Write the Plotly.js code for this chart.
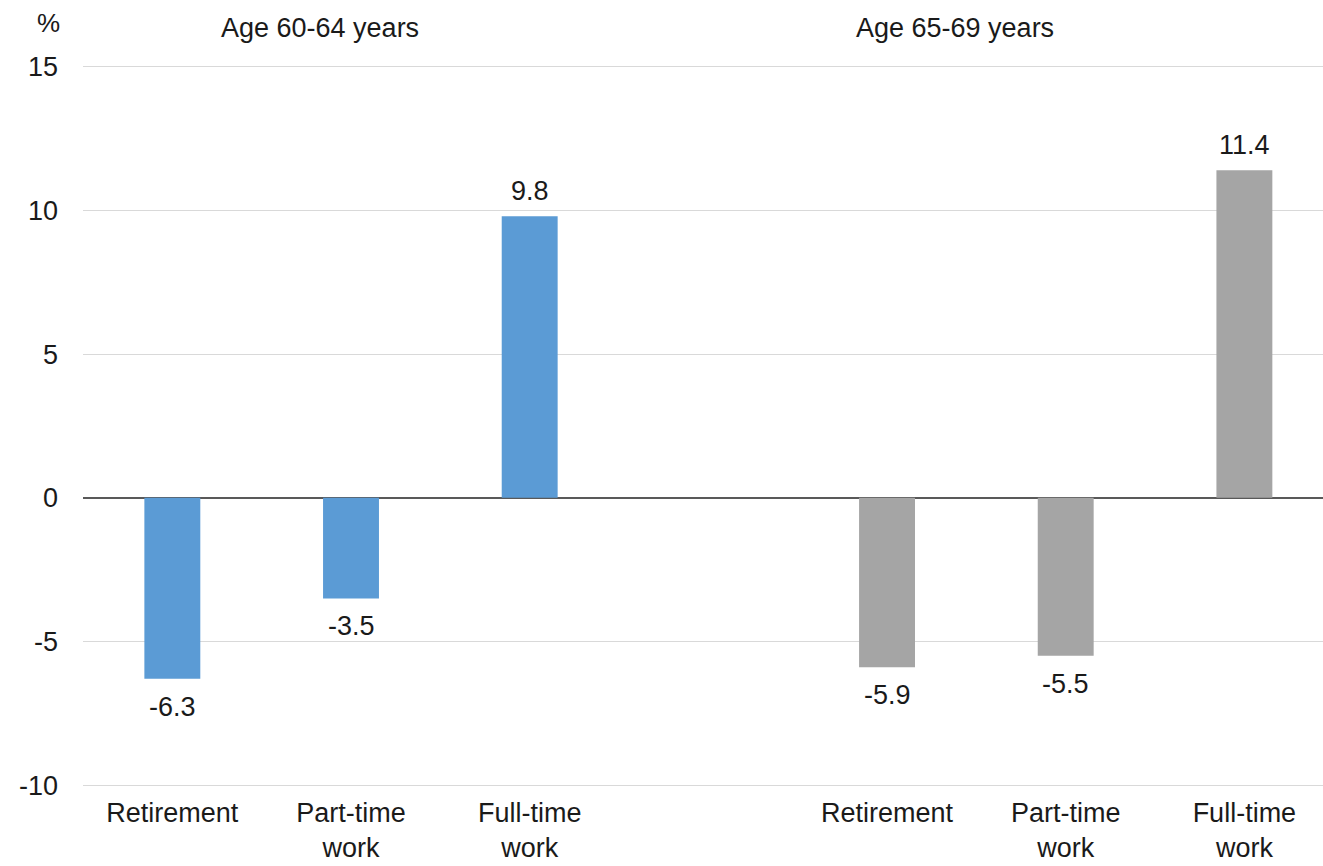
<!DOCTYPE html>
<html>
<head>
<meta charset="utf-8">
<script src="https://cdn.plot.ly/plotly-3.0.1.min.js"></script>
<style>
  html, body { margin: 0; padding: 0; background: #ffffff; }
  #chart { width: 1323px; height: 866px; }
</style>
</head>
<body>
<div id="chart"></div>
<script>
// ---- data ----
const categories = ['Retirement', 'Part-time<br>work', 'Full-time<br>work'];
const groupTitles = ['Age 60-64 years', 'Age 65-69 years'];
const values6064 = [-6.3, -3.5, 9.8];
const values6569 = [-5.9, -5.5, 11.4];
const yTickVals = [-10, -5, 0, 5, 10, 15];
const yUnit = '%';

// ---- layout helpers ----
const groupStride = categories.length + 1; // one empty slot between groups
const pos = (g, i) => g * groupStride + i;
const x6064 = categories.map((_, i) => pos(0, i));
const x6569 = categories.map((_, i) => pos(1, i));
const tickVals = x6064.concat(x6569);
const tickText = categories.concat(categories);

const FONT = '"Liberation Sans", Arial, sans-serif';
const TXT = '#1a1a1a';
const FS = 27;

function fmt(v) { return v.toFixed(1); }

const traces = [
  {
    type: 'bar', x: x6064, y: values6064, width: 0.313,
    marker: { color: '#5B9BD5', line: { width: 0 } },
    hoverinfo: 'skip', showlegend: false
  },
  {
    type: 'bar', x: x6569, y: values6569, width: 0.313,
    marker: { color: '#A5A5A5', line: { width: 0 } },
    hoverinfo: 'skip', showlegend: false
  }
];

const annotations = [];
[[x6064, values6064], [x6569, values6569]].forEach(([xs, vs]) => {
  xs.forEach((x, i) => {
    const v = vs[i];
    annotations.push({
      x: x, y: v, xref: 'x', yref: 'y',
      text: fmt(v), showarrow: false,
      yanchor: v >= 0 ? 'bottom' : 'top',
      yshift: v >= 0 ? 8 : -11,
      font: { family: FONT, size: FS, color: TXT }
    });
  });
});

annotations.push({
  x: 0.191, y: 1.05, xref: 'paper', yref: 'paper',
  text: groupTitles[0], showarrow: false, xanchor: 'center', yanchor: 'middle',
  font: { family: FONT, size: FS, color: TXT }
});
annotations.push({
  x: 0.703, y: 1.05, xref: 'paper', yref: 'paper',
  text: groupTitles[1], showarrow: false, xanchor: 'center', yanchor: 'middle',
  font: { family: FONT, size: FS, color: TXT }
});
annotations.push({
  x: -0.028, y: 1.057, xref: 'paper', yref: 'paper',
  text: yUnit, showarrow: false, xanchor: 'center', yanchor: 'middle',
  font: { family: FONT, size: 26, color: TXT }
});

const layout = {
  width: 1323, height: 866,
  margin: { l: 83, r: 0, t: 64, b: 78, pad: 0 },
  paper_bgcolor: '#ffffff', plot_bgcolor: '#ffffff',
  barmode: 'overlay',
  font: { family: FONT, size: FS, color: TXT },
  xaxis: {
    range: [-0.5, 6.44],
    tickvals: tickVals, ticktext: tickText,
    showgrid: false, zeroline: false, showline: false,
    ticks: '', ticklabelstandoff: 6,
    tickfont: { family: FONT, size: FS, color: TXT },
    fixedrange: true
  },
  yaxis: {
    range: [-10.1, 15.1],
    tickvals: yTickVals, ticktext: yTickVals.map(String),
    showgrid: true, gridcolor: '#D9D9D9', gridwidth: 1,
    zeroline: true, zerolinecolor: '#595959', zerolinewidth: 2,
    showline: false, ticks: '',
    ticklabelstandoff: 24,
    tickfont: { family: FONT, size: FS, color: TXT },
    fixedrange: true
  },
  annotations: annotations
};

Plotly.newPlot('chart', traces, layout, { displayModeBar: false, staticPlot: true });
</script>
</body>
</html>
